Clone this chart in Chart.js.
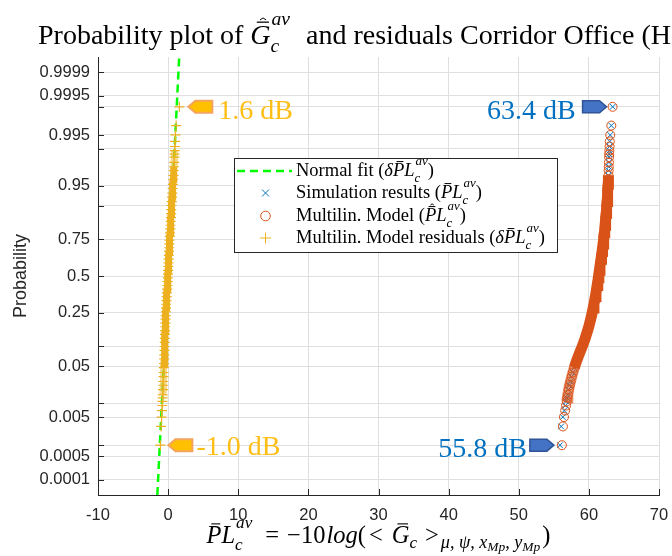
<!DOCTYPE html>
<html>
<head>
<meta charset="utf-8">
<script src="https://cdn.jsdelivr.net/npm/chart.js@4.4.0/dist/chart.umd.min.js"></script>
<style>
html, body { margin: 0; padding: 0; background: #fff; }
</style>
</head>
<body>
<canvas id="probChart" width="672" height="556"></canvas>
<script>
// plotting positions (probabilities) shared by the three sorted series
var plotProbs = [0.001, 0.003, 0.005, 0.007, 0.009, 0.011, 0.013, 0.015, 0.019, 0.023, 0.027, 0.033, 0.039,
    0.047, 0.055, 0.065, 0.075, 0.087, 0.099, 0.113, 0.127, 0.143, 0.159, 0.177, 0.195, 0.215, 0.235, 0.257,
    0.279, 0.303, 0.327, 0.353, 0.379, 0.405, 0.431, 0.459, 0.487,
    0.513, 0.541, 0.569, 0.595, 0.621, 0.647, 0.673, 0.697, 0.721, 0.743, 0.765, 0.785, 0.805, 0.823, 0.841,
    0.857, 0.873, 0.887, 0.901, 0.913, 0.925, 0.935, 0.945, 0.953, 0.961, 0.967, 0.973, 0.977, 0.981, 0.985,
    0.987, 0.989, 0.991, 0.993, 0.995, 0.997, 0.999];

// Simulation results (dB), sorted
var simValues = [55.88, 56.05, 56.28, 56.48, 56.64, 56.76, 56.86, 56.95, 57.08, 57.22, 57.35, 57.52, 57.70,
    57.90, 58.10, 58.33, 58.56, 58.80, 59.03, 59.26, 59.46, 59.64, 59.81, 59.97, 60.11, 60.25, 60.37, 60.49,
    60.60, 60.71, 60.81, 60.91, 61.00, 61.09, 61.17, 61.26, 61.34,
    61.41, 61.49, 61.57, 61.64, 61.72, 61.79, 61.87, 61.94, 62.01, 62.07, 62.13, 62.19, 62.25, 62.30, 62.35,
    62.40, 62.45, 62.50, 62.54, 62.58, 62.62, 62.66, 62.70, 62.73, 62.76, 62.79, 62.82, 62.84, 62.86, 62.88,
    62.90, 62.92, 62.95, 62.98, 63.05, 63.19, 63.40];

// Multilin. model (dB), sorted
var modelValues = [56.15, 56.30, 56.45, 56.62, 56.75, 56.85, 56.93, 57.00, 57.12, 57.25, 57.38, 57.55, 57.72,
    57.92, 58.12, 58.35, 58.58, 58.82, 59.05, 59.27, 59.47, 59.65, 59.82, 59.98, 60.12, 60.26, 60.38, 60.50,
    60.61, 60.72, 60.82, 60.92, 61.01, 61.10, 61.18, 61.27, 61.35,
    61.42, 61.50, 61.58, 61.65, 61.73, 61.80, 61.88, 61.95, 62.02, 62.08, 62.14, 62.20, 62.26, 62.31, 62.36,
    62.41, 62.46, 62.50, 62.55, 62.59, 62.63, 62.67, 62.71, 62.74, 62.77, 62.80, 62.82, 62.84, 62.86, 62.88,
    62.90, 62.92, 62.95, 62.98, 63.05, 63.20, 63.38];

// Multilin. model residuals (dB), sorted
var residValues = [-1.10, -1.00, -0.93, -0.88, -0.84, -0.81, -0.78, -0.76, -0.73, -0.71, -0.69, -0.66, -0.64,
    -0.61, -0.58, -0.56, -0.54, -0.52, -0.50, -0.48, -0.46, -0.45, -0.43, -0.41, -0.39, -0.37, -0.35, -0.32,
    -0.30, -0.27, -0.24, -0.20, -0.17, -0.14, -0.11, -0.08, -0.05,
    -0.02, 0.00, 0.03, 0.05, 0.08, 0.10, 0.13, 0.15, 0.18, 0.21, 0.24, 0.27, 0.31, 0.34, 0.37,
    0.40, 0.43, 0.45, 0.48, 0.52, 0.56, 0.60, 0.64, 0.68, 0.72, 0.76, 0.80, 0.83, 0.86, 0.89,
    0.91, 0.93, 0.96, 0.99, 1.05, 1.14, 1.60];

// normal fit of the residuals, ends of the line (x in dB, y in standard normal units)
var fitValues = [-1.54, 1.58];
var fitZ = [-4, 4];

// axes
var xTicks = [-10, 0, 10, 20, 30, 40, 50, 60, 70];
var tickProbs = [0.0001, 0.0005, 0.001, 0.005, 0.01, 0.05, 0.1, 0.25, 0.5, 0.75, 0.9, 0.95, 0.99, 0.995, 0.999, 0.9995, 0.9999];
var tickLabels = ['0.0001', '0.0005', '', '0.005', '', '0.05', '', '0.25', '0.5', '0.75', '', '0.95', '', '0.995', '', '0.9995', '0.9999'];

// callout labels
var residMaxLabel = '1.6 dB';
var residMinLabel = '-1.0 dB';
var modelMaxLabel = '63.4 dB';
var modelMinLabel = '55.8 dB';

var cBlue = '#0072BD';
var cRed = '#D95319';
var cYellow = '#EDB120';
var axisCol = '#262626';
var serif = '"Liberation Serif", "Times New Roman", serif';

// inverse of the standard normal cdf (Acklam)
function normInv(p) {
    var a = [-3.969683028665376e+01, 2.209460984245205e+02, -2.759285104469687e+02, 1.383577518672690e+02, -3.066479806614716e+01, 2.506628277459239e+00];
    var b = [-5.447609879822406e+01, 1.615858368580409e+02, -1.556989798598866e+02, 6.680131188771972e+01, -1.328068155288572e+01];
    var c = [-7.784894002430293e-03, -3.223964580411365e-01, -2.400758277161838e+00, -2.549732539343734e+00, 4.374664141464968e+00, 2.938163982698783e+00];
    var d = [7.784695709041462e-03, 3.224671290700398e-01, 2.445134137142996e+00, 3.754408661907416e+00];
    var pl = 0.02425, q, r;
    if (p < pl) {
        q = Math.sqrt(-2 * Math.log(p));
        return (((((c[0] * q + c[1]) * q + c[2]) * q + c[3]) * q + c[4]) * q + c[5]) / ((((d[0] * q + d[1]) * q + d[2]) * q + d[3]) * q + 1);
    }
    if (p > 1 - pl) {
        q = Math.sqrt(-2 * Math.log(1 - p));
        return -(((((c[0] * q + c[1]) * q + c[2]) * q + c[3]) * q + c[4]) * q + c[5]) / ((((d[0] * q + d[1]) * q + d[2]) * q + d[3]) * q + 1);
    }
    q = p - 0.5;
    r = q * q;
    return (((((a[0] * r + a[1]) * r + a[2]) * r + a[3]) * r + a[4]) * r + a[5]) * q / (((((b[0] * r + b[1]) * r + b[2]) * r + b[3]) * r + b[4]) * r + 1);
}

function toPoints(values) {
    return values.map(function (v, i) {
        return { x: v, y: normInv(plotProbs[i]) };
    });
}

// join the markers where the original points are packed into a band:
// solid in the core, see-through where the markers only overlap partly
function bandColor(col, soft, core, fringe) {
    return function (ctx) {
        var a = plotProbs[ctx.p0DataIndex], b = plotProbs[ctx.p1DataIndex];
        if (a >= core[0] && b <= core[1]) return col;
        if (fringe && a >= fringe[0] && b <= fringe[1]) return soft;
        return 'rgba(0,0,0,0)';
    };
}

// draws a short run of text with italics, bars, hats, sub/superscripts
function rich(ctx, x, y, parts, size, color, dry) {
    ctx.fillStyle = color;
    ctx.strokeStyle = color;
    ctx.textAlign = 'left';
    ctx.textBaseline = 'alphabetic';
    parts.forEach(function (p) {
        if (p.gap) x += p.gap;
        if (p.stack) {
            var s = size * 0.7;
            ctx.font = 'italic ' + s + 'px ' + serif;
            var w1 = ctx.measureText(p.stack[0]).width;
            var w2 = ctx.measureText(p.stack[1]).width;
            if (!dry) {
                ctx.fillText(p.stack[0], x, y + size * 0.3);
                ctx.fillText(p.stack[1], x + 1, y - size * (p.high || 0.62));
            }
            x += Math.max(w1, w2 + 1);
            return;
        }
        var fs = size * (p.s || 1);
        ctx.font = (p.i ? 'italic ' : '') + fs + 'px ' + serif;
        var w = ctx.measureText(p.t).width;
        var yy = y + size * (p.dy || 0);
        if (!dry) {
            ctx.fillText(p.t, x, yy);
            if (p.bar) {
                var by = yy - fs * 0.78;
                ctx.lineWidth = Math.max(1, fs * 0.045);
                ctx.beginPath();
                ctx.moveTo(x + w * 0.32, by);
                ctx.lineTo(x + w * 0.92, by);
                ctx.stroke();
            }
            if (p.hat) {
                var hy = yy - fs * (p.bar ? 0.86 : 0.8);
                ctx.lineWidth = Math.max(1, fs * 0.035);
                ctx.beginPath();
                ctx.moveTo(x + w * 0.48, hy);
                ctx.lineTo(x + w * 0.63, hy - fs * 0.07);
                ctx.lineTo(x + w * 0.78, hy);
                ctx.stroke();
            }
        }
        x += w;
    });
    return x;
}

function tag(ctx, tipX, tipY, dir, fill, edge, lw) {
    var len = 24, nose = 7, h = 6;
    ctx.beginPath();
    ctx.moveTo(tipX, tipY);
    ctx.lineTo(tipX + dir * nose, tipY - h);
    ctx.lineTo(tipX + dir * len, tipY - h);
    ctx.lineTo(tipX + dir * len, tipY + h);
    ctx.lineTo(tipX + dir * nose, tipY + h);
    ctx.closePath();
    ctx.fillStyle = fill;
    ctx.fill();
    ctx.lineWidth = lw;
    ctx.strokeStyle = edge;
    ctx.stroke();
}

var plPart = [{ t: 'P', i: 1, bar: 1 }, { t: 'L', i: 1 }, { stack: ['c', 'av'] }];
var legendRows = [
    { kind: 'fit', parts: [{ t: 'Normal fit (' }, { t: 'δ', i: 1 }].concat(plPart, [{ t: ')' }]) },
    { kind: 'sim', parts: [{ t: 'Simulation results (' }].concat(plPart, [{ t: ')' }]) },
    { kind: 'model', parts: [{ t: 'Multilin. Model (' }, { t: 'P', i: 1, bar: 1, hat: 1 }, { t: 'L', i: 1 }, { stack: ['c', 'av'] }, { t: ')' }] },
    { kind: 'resid', parts: [{ t: 'Multilin. Model residuals (' }, { t: 'δ', i: 1 }].concat(plPart, [{ t: ')' }]) }
];

var overlay = {
    id: 'overlay',
    beforeDraw: function (chart) {
        var ctx = chart.ctx;
        ctx.save();
        ctx.fillStyle = '#fff';
        ctx.fillRect(0, 0, chart.width, chart.height);
        ctx.restore();
    },
    afterDraw: function (chart) {
        var ctx = chart.ctx;
        var xs = chart.scales.x, ys = chart.scales.y, area = chart.chartArea;
        ctx.save();

        // inward tick marks
        ctx.strokeStyle = axisCol;
        ctx.lineWidth = 1;
        ctx.beginPath();
        ys.ticks.forEach(function (t) {
            var py = Math.round(ys.getPixelForValue(t.value)) + 0.5;
            ctx.moveTo(area.left, py);
            ctx.lineTo(area.left + 6, py);
        });
        xTicks.forEach(function (v) {
            var px = Math.round(xs.getPixelForValue(v)) + 0.5;
            ctx.moveTo(px, area.bottom);
            ctx.lineTo(px, area.bottom - 6);
        });
        ctx.stroke();

        // callouts at the extreme values
        var n = plotProbs.length - 1;
        var rTop = { x: xs.getPixelForValue(residValues[n]), y: ys.getPixelForValue(normInv(plotProbs[n])) };
        var rBot = { x: xs.getPixelForValue(residValues[0]), y: ys.getPixelForValue(normInv(plotProbs[0])) };
        var mTop = { x: xs.getPixelForValue(modelValues[n]), y: rTop.y };
        var mBot = { x: xs.getPixelForValue(modelValues[0]), y: rBot.y };
        ctx.font = '28px ' + serif;
        ctx.textBaseline = 'alphabetic';

        tag(ctx, rTop.x + 9, rTop.y, 1, '#FFC000', '#F4A45C', 2);
        ctx.fillStyle = '#FFBE16';
        ctx.textAlign = 'left';
        ctx.fillText(residMaxLabel, rTop.x + 9 + 30, rTop.y + 12);
        tag(ctx, rBot.x + 8, rBot.y, 1, '#FFC000', '#F4A45C', 2);
        ctx.fillStyle = '#FFBE16';
        ctx.fillText(residMinLabel, rBot.x + 8 + 28, rBot.y + 10);

        tag(ctx, mTop.x - 6, mTop.y, -1, '#4472C4', '#2F5597', 1.5);
        ctx.fillStyle = '#0070C0';
        ctx.textAlign = 'right';
        ctx.font = '28px ' + serif;
        ctx.fillText(modelMaxLabel, mTop.x - 6 - 31, mTop.y + 12);
        tag(ctx, mBot.x - 8, mBot.y, -1, '#4472C4', '#2F5597', 1.5);
        ctx.fillStyle = '#0070C0';
        ctx.font = '28px ' + serif;
        ctx.fillText(modelMinLabel, mBot.x - 8 - 27, mBot.y + 12);

        // legend box
        var lx = 234, ly = 158, lw = 323, lh = 94;
        ctx.fillStyle = '#fff';
        ctx.fillRect(lx, ly, lw, lh);
        ctx.strokeStyle = axisCol;
        ctx.lineWidth = 1;
        ctx.strokeRect(lx + 0.5, ly + 0.5, lw, lh);
        var rowY = [171, 193, 216, 238];
        legendRows.forEach(function (row, i) {
            var cy = rowY[i];
            if (row.kind === 'fit') {
                ctx.save();
                ctx.strokeStyle = '#00FF00';
                ctx.lineWidth = 2.5;
                ctx.setLineDash([8, 5]);
                ctx.beginPath();
                ctx.moveTo(237, cy);
                ctx.lineTo(292, cy);
                ctx.stroke();
                ctx.restore();
            } else if (row.kind === 'sim') {
                ctx.strokeStyle = cBlue;
                ctx.lineWidth = 1;
                ctx.beginPath();
                ctx.moveTo(262, cy - 3.5); ctx.lineTo(269, cy + 3.5);
                ctx.moveTo(269, cy - 3.5); ctx.lineTo(262, cy + 3.5);
                ctx.stroke();
            } else if (row.kind === 'model') {
                ctx.strokeStyle = cRed;
                ctx.lineWidth = 1;
                ctx.beginPath();
                ctx.arc(265.5, cy, 4.8, 0, Math.PI * 2);
                ctx.stroke();
            } else {
                ctx.strokeStyle = cYellow;
                ctx.lineWidth = 1;
                ctx.beginPath();
                ctx.moveTo(260, cy); ctx.lineTo(271, cy);
                ctx.moveTo(265.5, cy - 5.5); ctx.lineTo(265.5, cy + 5.5);
                ctx.stroke();
            }
            rich(ctx, 296, cy + 5, row.parts, 18.5, '#000');
        });

        // title (runs off the right edge, as in the original)
        rich(ctx, 38, 44, [
            { t: 'Probability plot of ' },
            { t: 'G', i: 1, bar: 1, hat: 1 },
            { stack: ['c', 'av'], high: 0.68 },
            { t: ' and residuals Corridor Office (H', gap: 9 }
        ], 28, '#000');

        // x axis title
        var xt = [
            { t: 'P', i: 1, bar: 1 }, { t: 'L', i: 1 }, { stack: ['c', 'av'] },
            { t: '=', gap: 13 }, { t: '−10', gap: 8 }, { t: 'log', i: 1, gap: 1 }, { t: '(' },
            { t: '<', gap: 3 }, { t: 'G', i: 1, bar: 1, gap: 9 }, { t: 'c', i: 1, s: 0.7, dy: 0.2 }, { t: '>', gap: 8 },
            { t: 'μ, ψ, x', i: 1, s: 0.74, dy: 0.2, gap: 2 }, { t: 'Mp', i: 1, s: 0.55, dy: 0.33 },
            { t: ', y', i: 1, s: 0.74, dy: 0.2 }, { t: 'Mp', i: 1, s: 0.55, dy: 0.33 }, { t: ')', gap: 2 }
        ];
        var w = rich(ctx, 0, 0, xt, 24.5, '#000', true);
        rich(ctx, (area.left + area.right) / 2 - w / 2, 543, xt, 24.5, '#000');

        // y axis title
        ctx.translate(21, (area.top + area.bottom) / 2);
        ctx.rotate(-Math.PI / 2);
        ctx.font = '18px "Liberation Sans", Arial, sans-serif';
        ctx.fillStyle = axisCol;
        ctx.textAlign = 'center';
        ctx.textBaseline = 'middle';
        ctx.fillText('Probability', 0, 0);
        ctx.restore();
    }
};

var tickFont = { family: '"Liberation Sans", Arial, sans-serif', size: 16.5 };

new Chart(document.getElementById('probChart'), {
    type: 'scatter',
    data: {
        datasets: [
            {
                label: 'Multilin. Model residuals',
                data: toPoints(residValues),
                order: 1,
                showLine: true,
                borderColor: cYellow,
                borderWidth: 7,
                segment: { borderColor: bandColor(cYellow, 'rgba(237,177,32,0.5)', [0.045, 0.98], [0.015, 0.99]) },
                pointStyle: 'cross',
                pointRadius: 5,
                pointBorderColor: cYellow,
                pointBackgroundColor: cYellow,
                pointBorderWidth: 1.2
            },
            {
                label: 'Normal fit',
                data: fitValues.map(function (v, i) { return { x: v, y: fitZ[i] }; }),
                order: 2,
                showLine: true,
                borderColor: '#00FF00',
                borderWidth: 2.5,
                borderDash: [8, 5],
                pointRadius: 0
            },
            {
                label: 'Multilin. Model',
                data: toPoints(modelValues),
                order: 3,
                showLine: true,
                borderColor: cRed,
                borderWidth: 11,
                segment: { borderColor: bandColor(cRed, 'rgba(217,83,25,0.6)', [0.045, 0.97], [0.011, 0.97]) },
                pointStyle: 'circle',
                pointRadius: 4.5,
                pointBorderColor: cRed,
                pointBackgroundColor: 'rgba(0,0,0,0)',
                pointBorderWidth: 1
            },
            {
                label: 'Simulation results',
                data: toPoints(simValues),
                order: 4,
                showLine: false,
                pointStyle: 'crossRot',
                pointRadius: 4,
                pointBorderColor: cBlue,
                pointBorderWidth: 1
            }
        ]
    },
    options: {
        responsive: false,
        devicePixelRatio: 1,
        animation: false,
        layout: { padding: { top: 57, right: 13, left: 0, bottom: 0 } },
        plugins: {
            legend: { display: false },
            tooltip: { enabled: false }
        },
        scales: {
            x: {
                type: 'linear',
                min: -10,
                max: 70,
                afterFit: function (scale) {
                    scale.height = 61;
                    scale.paddingLeft = 0;
                    scale.paddingRight = 0;
                },
                afterBuildTicks: function (scale) {
                    scale.ticks = xTicks.map(function (v) { return { value: v }; });
                },
                ticks: { font: tickFont, color: axisCol, padding: 11, maxRotation: 0, autoSkip: false },
                grid: { color: '#dfdfdf', drawTicks: false },
                border: { color: axisCol, width: 1 }
            },
            y: {
                type: 'linear',
                min: -4,
                max: 4,
                afterFit: function (scale) {
                    scale.width = 98;
                    scale.paddingTop = 0;
                    scale.paddingBottom = 0;
                },
                afterBuildTicks: function (scale) {
                    scale.ticks = tickProbs.map(function (p) { return { value: normInv(p) }; });
                },
                ticks: {
                    font: tickFont,
                    color: axisCol,
                    padding: 8,
                    autoSkip: false,
                    callback: function (v, i) { return tickLabels[i]; }
                },
                grid: { color: '#dfdfdf', drawTicks: false },
                border: { color: axisCol, width: 1 }
            }
        }
    },
    plugins: [overlay]
});
</script>
</body>
</html>
